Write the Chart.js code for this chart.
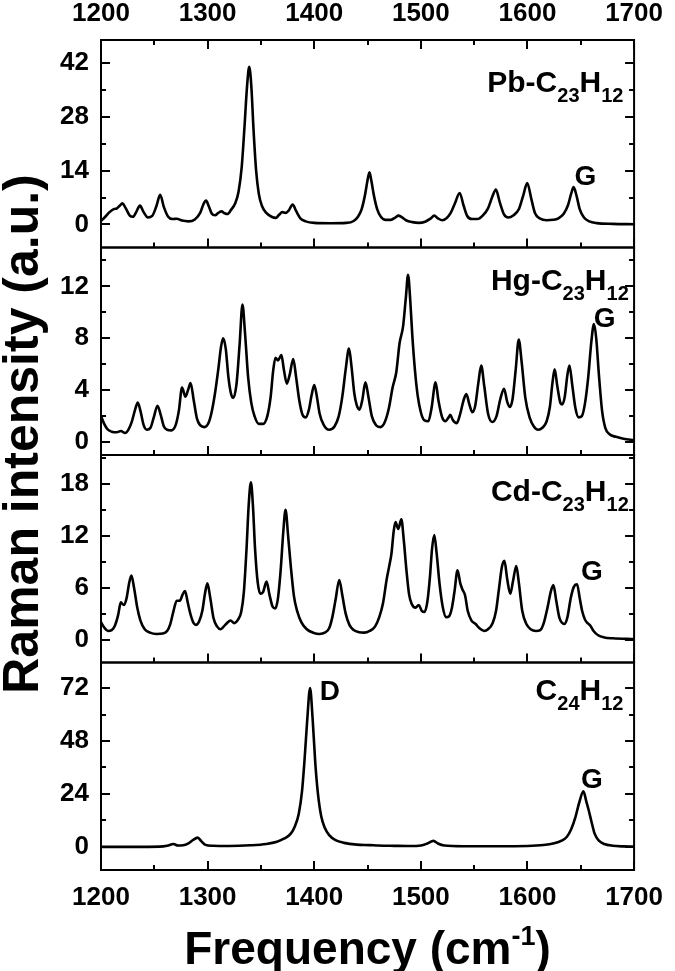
<!DOCTYPE html>
<html>
<head>
<meta charset="utf-8">
<title>Raman spectra</title>
<script src="https://cdn.jsdelivr.net/npm/chart.js@4.4.1/dist/chart.umd.min.js"></script>
<style>
  html, body { margin: 0; padding: 0; background: #fff; }
</style>
</head>
<body>
<canvas id="raman" width="675" height="971"></canvas>
<script>
// --- data (frequency in cm-1, intensity in a.u.) ---
const pbFreq = [1200, 1204, 1208, 1212, 1215, 1218, 1220, 1223, 1227, 1230, 1233, 1236.5, 1240, 1244, 1248, 1252, 1255.5, 1259, 1263, 1267, 1271, 1276, 1282, 1288, 1293, 1296, 1298.5, 1301, 1304, 1307, 1310, 1313, 1316, 1318.5, 1322, 1326, 1329, 1332, 1334.5, 1337, 1339, 1341, 1343, 1345.5, 1348, 1351, 1355, 1360, 1364, 1367, 1370, 1373, 1376, 1379.8, 1383, 1387, 1392, 1400, 1415, 1430, 1437, 1441, 1444.5, 1447.5, 1450, 1451.8, 1453.5, 1456, 1459, 1462.5, 1467, 1472, 1476, 1479, 1482, 1486, 1492, 1498, 1504, 1509, 1512.6, 1516, 1520, 1524, 1528, 1532, 1536.4, 1540, 1543.5, 1548, 1553, 1558, 1563, 1567, 1570.4, 1574, 1578, 1582, 1587, 1592, 1596, 1599.8, 1603.5, 1607, 1612, 1618, 1624, 1629, 1634, 1638, 1641, 1643.3, 1646, 1649, 1653, 1658, 1665, 1680, 1700];
const pbInt = [0.9, 2.0, 3.2, 4.0, 4.2, 5.0, 5.5, 4.3, 2.3, 2.0, 3.2, 4.9, 3.2, 1.8, 2.2, 4.8, 7.7, 4.5, 2.0, 1.4, 1.5, 1.0, 0.8, 1.3, 3.0, 5.2, 6.2, 4.8, 2.8, 2.4, 3.0, 3.4, 2.9, 2.7, 3.8, 5.6, 8.5, 15, 25, 36, 41, 36, 25, 14, 8, 4.8, 3.0, 2.0, 1.7, 2.5, 3.2, 3.0, 3.6, 5.2, 3.5, 1.6, 0.8, 0.4, 0.3, 0.4, 0.9, 2.0, 4.0, 7.5, 11.5, 13.6, 11.5, 7.5, 4.0, 2.0, 1.2, 1.2, 1.8, 2.3, 1.9, 1.1, 0.6, 0.4, 0.7, 1.5, 2.3, 1.6, 1.1, 1.6, 3.0, 5.5, 8.2, 5.0, 2.2, 1.4, 1.4, 2.3, 4.2, 7.2, 9.1, 5.8, 2.6, 1.8, 2.4, 4.0, 7.5, 10.8, 6.8, 3.0, 1.5, 1.1, 1.2, 1.6, 2.8, 5.0, 8.0, 9.7, 7.5, 4.0, 1.8, 0.8, 0.35, 0.15, 0.05];

const hgFreq = [1200, 1203, 1206, 1210, 1214.7, 1218.6, 1222.6, 1226, 1229, 1232, 1234.5, 1237, 1240, 1243, 1246.4, 1249.5, 1253, 1256, 1259, 1262, 1266, 1270, 1273, 1276, 1279.2, 1282, 1284, 1287, 1290, 1293, 1297, 1301, 1304, 1307, 1310, 1312.5, 1314.5, 1317, 1319.5, 1322, 1324, 1327, 1330, 1332.7, 1335, 1338, 1341, 1344, 1348, 1352, 1356, 1359, 1361.5, 1363.6, 1366, 1369.2, 1371.5, 1374.3, 1377, 1380.3, 1383, 1386, 1389, 1392, 1395, 1397.5, 1400, 1402.5, 1405, 1409, 1414, 1419, 1423, 1426.5, 1429.5, 1432.6, 1435, 1437.5, 1440, 1442.5, 1445, 1448, 1451, 1454, 1458, 1462, 1466, 1470, 1473.5, 1477, 1480, 1483.3, 1486, 1488, 1490, 1492, 1494.5, 1497, 1500, 1503, 1507, 1510, 1513.8, 1516.5, 1520, 1523, 1526, 1527.7, 1530, 1533.6, 1537, 1540, 1542.7, 1545.5, 1548.3, 1551, 1554, 1556.6, 1559.5, 1563, 1567, 1571, 1574.5, 1578, 1581, 1583.5, 1586, 1589, 1591.8, 1594.5, 1598, 1602, 1606, 1610, 1614, 1618, 1621, 1623.5, 1625.5, 1628, 1631, 1632.7, 1635, 1637.5, 1639.4, 1642, 1645, 1648, 1651, 1654, 1657, 1660, 1662.4, 1664.5, 1667, 1670, 1673, 1677, 1683, 1690, 1700];
const hgInt = [2.0, 1.4, 1.0, 0.8, 0.75, 0.85, 0.7, 1.0, 1.6, 2.5, 3.05, 2.4, 1.3, 0.95, 1.1, 1.9, 2.8, 2.1, 1.2, 0.95, 0.9, 1.3, 2.4, 4.2, 3.5, 4.1, 4.55, 3.2, 1.8, 1.3, 1.15, 1.5, 2.4, 3.8, 5.6, 7.3, 8.0, 7.2, 5.0, 3.7, 3.4, 4.4, 7.5, 10.6, 8.5, 5.0, 3.0, 2.0, 1.4, 1.4, 2.0, 3.4, 5.5, 6.5, 6.3, 6.7, 5.6, 4.5, 5.2, 6.4, 5.0, 3.2, 2.1, 1.9, 2.5, 3.6, 4.4, 3.5, 2.2, 1.3, 0.95, 1.2, 2.0, 3.6, 5.6, 7.2, 5.8, 3.8, 2.8, 2.5, 3.2, 4.6, 3.4, 2.0, 1.3, 1.15, 1.5, 2.6, 4.2, 5.4, 7.6, 8.9, 11.2, 12.9, 11.0, 8.2, 5.5, 3.6, 2.3, 1.7, 1.6, 2.6, 4.6, 3.2, 1.9, 1.6, 1.9, 2.1, 1.7, 1.45, 2.2, 3.2, 3.7, 2.9, 2.3, 2.8, 4.6, 5.9, 4.3, 2.2, 1.55, 2.0, 3.3, 4.1, 3.1, 2.7, 3.3, 5.6, 7.9, 6.2, 3.4, 1.9, 1.2, 0.95, 1.1, 1.6, 2.7, 4.6, 5.6, 4.3, 3.0, 2.9, 3.5, 5.2, 5.9, 4.4, 2.6, 1.9, 2.0, 3.0, 5.0, 7.8, 9.1, 8.0, 5.2, 2.4, 1.1, 0.6, 0.4, 0.25, 0.15];

const cdFreq = [1200, 1203, 1206.5, 1210, 1213, 1216, 1218.6, 1221.4, 1224, 1226.5, 1228.5, 1231, 1234, 1237, 1241, 1246, 1252, 1258, 1262, 1265, 1268, 1271, 1274, 1276.5, 1278.8, 1281.5, 1284, 1286.5, 1289, 1292, 1295, 1297.5, 1299.8, 1302.5, 1305.5, 1309, 1312, 1315, 1318, 1321.6, 1325, 1328.5, 1331.5, 1334, 1336.5, 1338.5, 1340.6, 1342.5, 1344.5, 1347, 1349.5, 1352, 1355.3, 1358, 1361, 1363.5, 1366, 1368.5, 1371, 1373.1, 1375.5, 1378, 1381, 1384, 1388, 1393, 1399, 1405, 1410, 1414, 1417, 1420, 1423.5, 1426.5, 1429.5, 1433, 1437, 1442, 1447, 1452, 1457, 1461, 1464.5, 1468, 1470.5, 1472.5, 1474.5, 1476.2, 1478.8, 1481.7, 1484, 1486.5, 1489, 1491.5, 1495, 1498, 1501, 1503.5, 1506, 1508.5, 1510.5, 1512.6, 1514.8, 1517.5, 1520.5, 1523.7, 1526.5, 1529, 1531.5, 1534.4, 1537, 1539, 1541.5, 1544, 1547.5, 1551.4, 1555, 1559.4, 1563, 1567.3, 1570.5, 1573.2, 1576, 1578.4, 1581, 1583.9, 1586.5, 1589.5, 1592, 1595, 1599, 1603, 1608, 1612, 1615.5, 1618.8, 1622, 1624.3, 1627, 1630, 1634.6, 1637.5, 1640.6, 1643.5, 1646.5, 1649, 1651.3, 1654, 1656.4, 1659, 1662, 1666.3, 1672, 1680, 1700];
const cdInt = [2.0, 1.4, 1.0, 1.1, 1.6, 2.8, 4.3, 4.0, 4.8, 6.6, 7.4, 6.0, 3.7, 2.2, 1.2, 0.8, 0.65, 0.7, 1.0, 1.8, 3.3, 4.5, 4.5, 5.2, 5.6, 4.2, 2.9, 2.0, 1.7, 2.1, 3.3, 5.3, 6.5, 4.8, 2.5, 1.5, 1.2, 1.5, 1.9, 2.2, 1.9, 2.3, 3.2, 5.5, 10.5, 15.5, 18.2, 15.5, 10.5, 6.6, 5.3, 5.5, 6.7, 5.2, 3.8, 3.6, 4.8, 8.0, 12.5, 15.0, 12.0, 8.5, 5.0, 3.3, 2.0, 1.2, 0.8, 0.65, 0.8, 1.3, 2.6, 4.6, 6.9, 5.0, 3.0, 1.7, 1.1, 0.85, 0.8, 1.0, 1.5, 2.6, 4.2, 7.0, 8.6, 10.0, 12.5, 13.6, 12.8, 13.9, 11.5, 8.0, 5.2, 4.1, 3.7, 4.0, 3.3, 3.2, 4.3, 7.2, 10.5, 12.1, 10.0, 6.5, 3.8, 2.6, 2.7, 3.6, 5.5, 8.0, 6.5, 5.8, 5.1, 3.3, 2.2, 1.8, 1.3, 1.0, 1.2, 1.9, 3.3, 5.8, 8.4, 9.1, 7.0, 5.3, 6.8, 8.5, 6.5, 3.4, 1.8, 1.2, 1.0, 1.1, 2.0, 3.7, 5.6, 6.3, 4.5, 2.5, 1.8, 2.6, 4.8, 6.1, 6.4, 4.8, 3.3, 2.3, 1.9, 1.6, 1.0, 0.5, 0.25, 0.15, 0.05];

const c24Freq = [1200, 1230, 1255, 1262, 1268, 1272, 1277, 1282, 1286, 1290.7, 1294, 1298, 1305, 1320, 1340, 1355, 1365, 1372, 1378, 1382, 1385.5, 1388.5, 1391, 1393.5, 1396.1, 1398.5, 1401, 1403.5, 1406.5, 1410, 1414, 1420, 1428, 1440, 1452, 1460, 1475, 1490, 1500, 1506, 1511.8, 1516, 1522, 1540, 1570, 1600, 1615, 1625, 1632, 1637, 1641, 1645, 1648.5, 1652.5, 1655, 1657.5, 1660, 1663, 1667, 1672, 1680, 1690, 1700];
const c24Int = [0, 0, 0.1, 0.5, 1.3, 0.6, 0.7, 1.6, 3.0, 4.2, 2.6, 0.9, 0.5, 0.4, 0.7, 1.3, 2.3, 3.8, 6.0, 9.5, 15, 25, 40, 58, 72, 58, 38, 24, 14, 8.5, 5.3, 3.0, 1.8, 1.0, 0.8, 0.6, 0.45, 0.35, 0.6, 1.5, 2.7, 1.5, 0.6, 0.3, 0.3, 0.4, 0.8, 1.6, 2.8, 4.6, 8.0, 13.5, 20, 25.2, 21, 16.5, 11.5, 6.0, 2.8, 1.3, 0.5, 0.2, 0.1];

// tick labels
const freqTicks = [1200, 1300, 1400, 1500, 1600, 1700];
const pbTicks = [0, 14, 28, 42];
const hgTicks = [0, 4, 8, 12];
const cdTicks = [0, 6, 12, 18];
const c24Ticks = [0, 24, 48, 72];

// panels top -> bottom
const panelIds = ['yPb', 'yHg', 'yCd', 'yC24'];
const panelTicks = [pbTicks, hgTicks, cdTicks, c24Ticks];
const panelMin = [-6, -1, -2.65, -10.5];
const panelMax = [48, 15, 21.35, 83.6];
const freqMin = 1200, freqMax = 1700;

// panel names, [text, subscript?] pieces
const panelNames = [
  [['Pb-C', false], ['23', true], ['H', false], ['12', true]],
  [['Hg-C', false], ['23', true], ['H', false], ['12', true]],
  [['Cd-C', false], ['23', true], ['H', false], ['12', true]],
  [['C', false], ['24', true], ['H', false], ['12', true]]
];
const nameAnchorFreq = [1690, 1695, 1695, 1690];
const nameAnchorInt = [34.5, 11.74, 16.0, 66.4];

// peak letters: text, panel, frequency, intensity (centre of the letter)
const peakTags = [
  ['G', 0, 1654.4, 12.4],
  ['G', 1, 1672.3, 9.43],
  ['G', 2, 1660.4, 7.75],
  ['D', 3, 1414.7, 70.2],
  ['G', 3, 1660.4, 30.2]
];

const FONT = "'Liberation Sans', Arial, Helvetica, sans-serif";
const tickFont = { family: FONT, size: 26, weight: 'bold' };

function pairs(xs, ys) {
  return xs.map((v, i) => ({ x: v, y: ys[i] }));
}

function spectrum(xs, ys, axis) {
  return {
    data: pairs(xs, ys),
    yAxisID: axis,
    xAxisID: 'x',
    borderColor: '#000',
    borderWidth: 2.6,
    pointRadius: 0,
    fill: false,
    cubicInterpolationMode: 'monotone'
  };
}

function yAxis(i) {
  return {
    type: 'linear',
    position: 'left',
    stack: 'raman',
    stackWeight: 1,
    weight: 4 - i,
    min: panelMin[i],
    max: panelMax[i],
    grid: { display: false, drawTicks: false },
    border: { display: false },
    afterBuildTicks(s) { s.ticks = panelTicks[i].map(v => ({ value: v })); },
    ticks: { padding: 12, color: '#000', font: tickFont, callback: v => String(v) },
    afterFit(s) { s.width = 101; }
  };
}

function xAxis(pos, h, pad) {
  return {
    type: 'linear',
    position: pos,
    min: freqMin,
    max: freqMax,
    grid: { display: false, drawTicks: false },
    border: { display: false },
    afterBuildTicks(s) { s.ticks = freqTicks.map(v => ({ value: v })); },
    ticks: { padding: pad, color: '#000', font: tickFont, maxRotation: 0, autoSkip: false, callback: v => String(v) },
    afterFit(s) { s.height = h; }
  };
}

function drawPieces(ctx, pieces, x, y, align, size, subSize, shift) {
  const widths = pieces.map(p => {
    ctx.font = 'bold ' + (p[1] ? subSize : size) + 'px ' + FONT;
    return ctx.measureText(p[0]).width;
  });
  const total = widths.reduce((a, b) => a + b, 0);
  let cx = align === 'right' ? x - total : x - total / 2;
  pieces.forEach((p, i) => {
    ctx.font = 'bold ' + (p[1] ? subSize : size) + 'px ' + FONT;
    ctx.fillText(p[0], cx, p[1] ? y + shift : y);
    cx += widths[i];
  });
}

// minor ticks sit halfway between the labelled ones
function withMinors(values, lo, hi) {
  const step = values[1] - values[0];
  const out = [];
  values.forEach((v, k) => {
    out.push([v, true]);
    if (v + step / 2 <= hi) out.push([v + step / 2, false]);
    if (k === 0 && v - step / 2 >= lo) out.push([v - step / 2, false]);
  });
  return out;
}

// frame, inward ticks and labels
const ramanFrame = {
  id: 'ramanFrame',
  afterDraw(chart) {
    const { ctx, chartArea: area, scales } = chart;
    const x = scales.x;
    const major = 9, minor = 5;
    ctx.save();
    ctx.strokeStyle = '#000';
    ctx.fillStyle = '#000';
    ctx.lineWidth = 2;
    ctx.lineCap = 'butt';

    const xMarks = withMinors(freqTicks, freqMin, freqMax - 1);

    panelIds.forEach((id, i) => {
      const y = scales[id];
      ctx.strokeRect(area.left, y.top, area.right - area.left, y.bottom - y.top);
      ctx.beginPath();
      withMinors(panelTicks[i], y.min, y.max).forEach(([v, big]) => {
        const py = Math.round(y.getPixelForValue(v));
        const len = big ? major : minor;
        ctx.moveTo(area.left, py); ctx.lineTo(area.left + len, py);
        ctx.moveTo(area.right, py); ctx.lineTo(area.right - len, py);
      });
      // x ticks on the bottom edge, and on the top edge of the first panel
      xMarks.forEach(([v, big]) => {
        const px = Math.round(x.getPixelForValue(v));
        const len = big ? major : minor;
        ctx.moveTo(px, y.bottom); ctx.lineTo(px, y.bottom - len);
        if (i === 0) { ctx.moveTo(px, y.top); ctx.lineTo(px, y.top + len); }
      });
      ctx.stroke();

      // panel name
      ctx.textAlign = 'left';
      ctx.textBaseline = 'alphabetic';
      drawPieces(ctx, panelNames[i], x.getPixelForValue(nameAnchorFreq[i]),
        y.getPixelForValue(nameAnchorInt[i]), 'right', 30, 20, 10);
    });

    // peak letters
    ctx.font = 'bold 28px ' + FONT;
    ctx.textAlign = 'center';
    ctx.textBaseline = 'middle';
    peakTags.forEach(([txt, p, f, v]) => {
      ctx.fillText(txt, x.getPixelForValue(f), scales[panelIds[p]].getPixelForValue(v));
    });

    // axis titles
    ctx.font = 'bold 50px ' + FONT;
    ctx.save();
    ctx.translate(24, 434);
    ctx.rotate(-Math.PI / 2);
    ctx.fillText('Raman intensity (a.u.)', 0, 0);
    ctx.restore();

    ctx.textAlign = 'left';
    ctx.textBaseline = 'alphabetic';
    drawPieces(ctx, [['Frequency (cm', false], ['-1', true], [')', false]],
      (area.left + area.right) / 2, 964, 'center', 46, 27, -19);
    ctx.restore();
  }
};

Chart.defaults.font.family = FONT;

const scales = {
  x: xAxis('bottom', 101, 12),
  x2: xAxis('top', 40, 11)
};
panelIds.forEach((id, i) => { scales[id] = yAxis(i); });

new Chart(document.getElementById('raman'), {
  type: 'line',
  data: {
    datasets: [
      spectrum(pbFreq, pbInt, 'yPb'),
      spectrum(hgFreq, hgInt, 'yHg'),
      spectrum(cdFreq, cdInt, 'yCd'),
      spectrum(c24Freq, c24Int, 'yC24')
    ]
  },
  options: {
    responsive: false,
    animation: false,
    layout: { padding: { left: 0, right: 32, top: 0, bottom: 0 } },
    plugins: { legend: { display: false }, tooltip: { enabled: false } },
    scales
  },
  plugins: [ramanFrame]
});
</script>
</body>
</html>
